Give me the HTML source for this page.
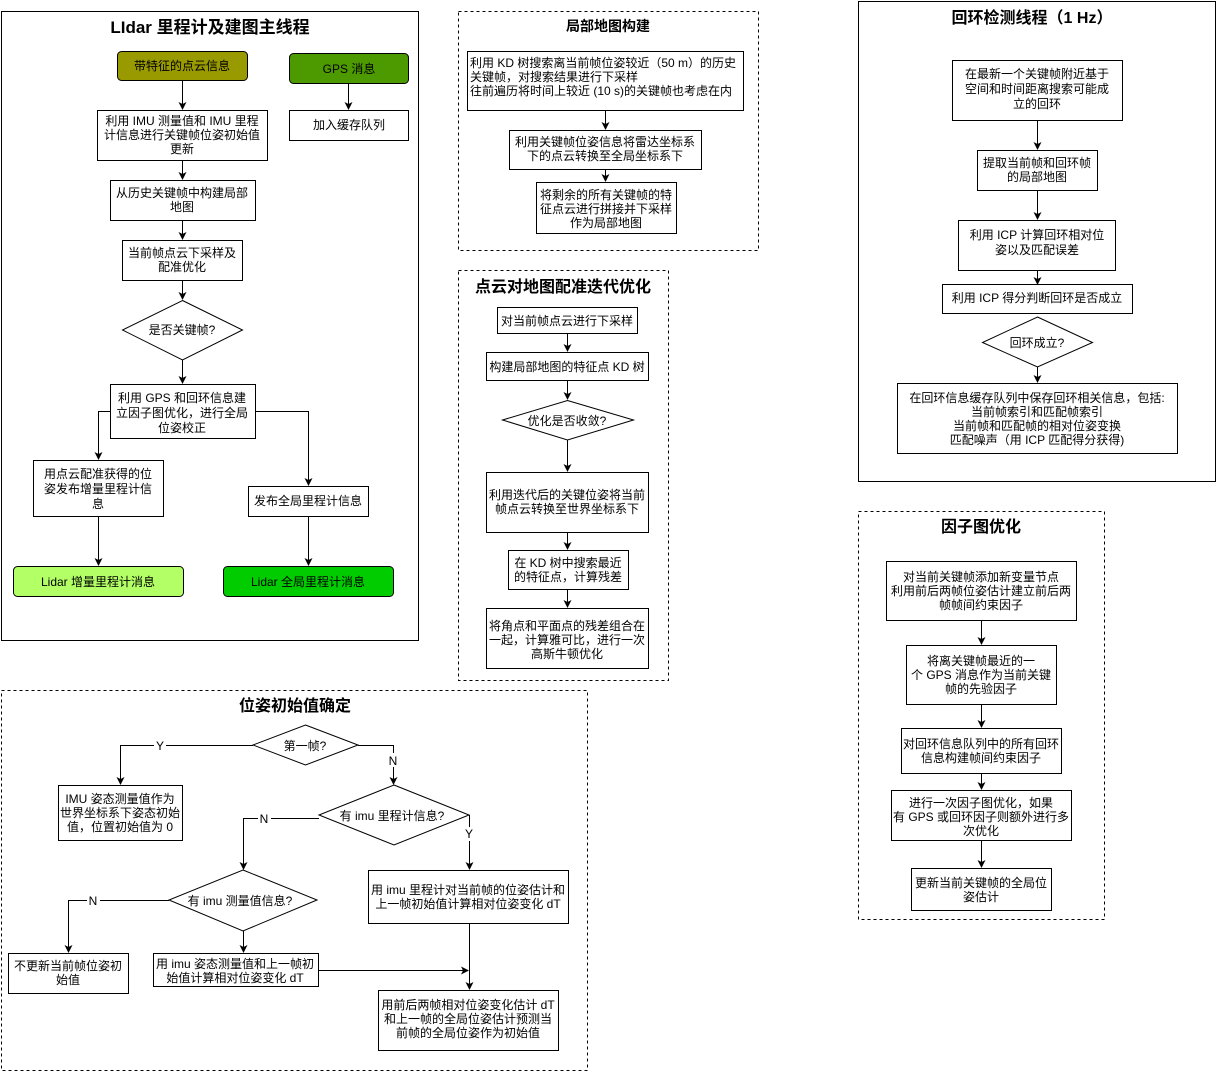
<!DOCTYPE html>
<html><head><meta charset="utf-8"><style>
html,body{margin:0;padding:0;background:#fff;}
svg{display:block;}
text{font-family:"Liberation Sans","Noto Sans CJK SC",sans-serif;font-size:12px;fill:#000;}
.t{font-weight:bold;font-size:16px;}
</style></head><body>
<svg width="1216" height="1071" viewBox="0 0 1216 1071" xmlns="http://www.w3.org/2000/svg">
<defs><marker id="a" markerWidth="10" markerHeight="10" refX="7" refY="4" orient="auto" markerUnits="userSpaceOnUse"><path d="M0,0 L8,4 L0,8 L2,4 Z" fill="#000"/></marker></defs>
<g fill="none" stroke="#000" stroke-width="1">
<rect x="1.5" y="11.5" width="417" height="629"/>
<rect x="117.5" y="51.5" width="130" height="29" rx="4" fill="#999900"/>
<rect x="289.5" y="53.5" width="119" height="30" rx="4" fill="#4D9900"/>
<rect x="97.5" y="110.5" width="170" height="50"/>
<rect x="289.5" y="110.5" width="119" height="30"/>
<rect x="110.5" y="180.5" width="145" height="40"/>
<rect x="122.5" y="240.5" width="120" height="40"/>
<polygon points="182.5,300.5 242.5,330 182.5,360 122.5,330"/>
<rect x="110.5" y="384.5" width="145" height="54"/>
<rect x="33.5" y="460.5" width="130" height="56"/>
<rect x="248.5" y="486.5" width="120" height="30"/>
<rect x="13.5" y="566.5" width="170" height="30" rx="4" fill="#B3FF66"/>
<rect x="223.5" y="566.5" width="170" height="30" rx="4" fill="#00CC00"/>
<g marker-end="url(#a)">
<path d="M182.5,80 V109"/><path d="M348.5,83 V109"/><path d="M182.5,160 V179"/>
<path d="M182.5,220 V239"/><path d="M182.5,280 V299"/><path d="M182.5,360 V383"/>
<path d="M110,411.5 H98.5 V459"/><path d="M255,411.5 H308.5 V485"/>
<path d="M98.5,516 V565"/><path d="M308.5,516 V565"/>
</g>
<rect x="458.5" y="11.5" width="300" height="239" stroke-dasharray="3,3"/>
<rect x="467.5" y="51.5" width="276" height="59"/>
<rect x="509.5" y="130.5" width="192" height="39"/>
<rect x="536.5" y="182.5" width="140" height="51"/>
<g marker-end="url(#a)"><path d="M605.5,110 V129"/><path d="M605.5,169 V181"/></g>
<rect x="458.5" y="270.5" width="210" height="410" stroke-dasharray="3,3"/>
<rect x="497.5" y="307.5" width="140" height="26"/>
<rect x="486.5" y="352.5" width="162" height="28"/>
<polygon points="567.5,400.5 633.5,420 567.5,440 502.5,420"/>
<rect x="486.5" y="472.5" width="162" height="60"/>
<rect x="508.5" y="550.5" width="120" height="39"/>
<rect x="486.5" y="608.5" width="162" height="60"/>
<g marker-end="url(#a)"><path d="M567.5,333 V351"/><path d="M567.5,380 V399"/><path d="M567.5,440 V471"/><path d="M567.5,532 V549"/><path d="M567.5,589 V607"/></g>
<rect x="858.5" y="1.5" width="357" height="480"/>
<rect x="952.5" y="60.5" width="170" height="60"/>
<rect x="977.5" y="150.5" width="120" height="40"/>
<rect x="958.5" y="220.5" width="157" height="50"/>
<rect x="942.5" y="284.5" width="190" height="29"/>
<polygon points="1037.5,317 1092.5,342.5 1037.5,367 982.5,342.5"/>
<rect x="897.5" y="383.5" width="280" height="70"/>
<g marker-end="url(#a)"><path d="M1037.5,120 V149"/><path d="M1037.5,190 V219"/><path d="M1037.5,270 V284"/><path d="M1037.5,367 V382"/></g>
<rect x="858.5" y="511.5" width="246" height="408" stroke-dasharray="3,3"/>
<rect x="886.5" y="561.5" width="190" height="59"/>
<rect x="906.5" y="645.5" width="150" height="59"/>
<rect x="901.5" y="728.5" width="160" height="45"/>
<rect x="891.5" y="790.5" width="180" height="50"/>
<rect x="911.5" y="868.5" width="140" height="42"/>
<g marker-end="url(#a)"><path d="M981.5,620 V644"/><path d="M981.5,704 V727"/><path d="M981.5,773 V789"/><path d="M981.5,840 V867"/></g>
<rect x="1.5" y="690.5" width="586" height="380" stroke-dasharray="3,3"/>
<polygon points="305.5,725 358,745 305.5,765 253,745"/>
<rect x="58.5" y="785.5" width="124" height="55"/>
<polygon points="394,785 469,815 394,845 319,815"/>
<polygon points="243,870 317,900 243,931 169,900"/>
<rect x="368.5" y="870.5" width="200" height="53"/>
<rect x="8.5" y="953.5" width="120" height="40"/>
<rect x="153.5" y="953.5" width="165" height="33"/>
<rect x="378.5" y="990.5" width="180" height="60"/>
<g marker-end="url(#a)">
<path d="M253,745.5 H120.5 V784"/><path d="M358,745.5 H393.5 V784"/>
<path d="M319,818.5 H243.5 V869"/><path d="M469.5,815 V869"/>
<path d="M169,900.5 H68.5 V952"/><path d="M243.5,931 V952"/>
<path d="M318,970.5 H468"/><path d="M469.5,923 V989"/>
</g>
</g>
<g fill="#fff"><rect x="154" y="739" width="12" height="13"/><rect x="387" y="753" width="13" height="14"/><rect x="258" y="811" width="13" height="14"/><rect x="463" y="827" width="13" height="14"/><rect x="87" y="893" width="13" height="14"/></g>
<g text-anchor="middle">
<text class="t" x="210" y="33" style="font-size:17px">LIdar 里程计及建图主线程</text>
<text x="182" y="70">带特征的点云信息</text>
<text x="349" y="73">GPS 消息</text>
<text x="182" y="125">利用 IMU 测量值和 IMU 里程<tspan x="182" dy="14">计信息进行关键帧位姿初始值</tspan><tspan x="182" dy="14">更新</tspan></text>
<text x="349" y="129">加入缓存队列</text>
<text x="182" y="197">从历史关键帧中构建局部<tspan x="182" dy="14">地图</tspan></text>
<text x="182" y="257">当前帧点云下采样及<tspan x="182" dy="14">配准优化</tspan></text>
<text x="182" y="334">是否关键帧?</text>
<text x="182" y="402">利用 GPS 和回环信息建<tspan x="182" dy="15">立因子图优化，进行全局</tspan><tspan x="182" dy="15">位姿校正</tspan></text>
<text x="98" y="478">用点云配准获得的位<tspan x="98" dy="15">姿发布增量里程计信</tspan><tspan x="98" dy="15">息</tspan></text>
<text x="308" y="505">发布全局里程计信息</text>
<text x="98" y="586">Lidar 增量里程计消息</text>
<text x="308" y="586">Lidar 全局里程计消息</text>
<text class="t" x="608" y="31" style="font-size:14px">局部地图构建</text>
<text x="605" y="146">利用关键帧位姿信息将雷达坐标系<tspan x="605" dy="14">下的点云转换至全局坐标系下</tspan></text>
<text x="606" y="199">将剩余的所有关键帧的特<tspan x="606" dy="14">征点云进行拼接并下采样</tspan><tspan x="606" dy="14">作为局部地图</tspan></text>
<text class="t" x="563" y="292">点云对地图配准迭代优化</text>
<text x="567" y="325">对当前帧点云进行下采样</text>
<text x="567" y="371">构建局部地图的特征点 KD 树</text>
<text x="567" y="425">优化是否收敛?</text>
<text x="567" y="499">利用迭代后的关键位姿将当前<tspan x="567" dy="14">帧点云转换至世界坐标系下</tspan></text>
<text x="568" y="567">在 KD 树中搜索最近<tspan x="568" dy="14">的特征点，计算残差</tspan></text>
<text x="567" y="630">将角点和平面点的残差组合在<tspan x="567" dy="14">一起，计算雅可比，进行一次</tspan><tspan x="567" dy="14">高斯牛顿优化</tspan></text>
<text class="t" x="1032" y="23">回环检测线程（1 Hz）</text>
<text x="1037" y="78">在最新一个关键帧附近基于<tspan x="1037" dy="15">空间和时间距离搜索可能成</tspan><tspan x="1037" dy="15">立的回环</tspan></text>
<text x="1037" y="167">提取当前帧和回环帧<tspan x="1037" dy="14">的局部地图</tspan></text>
<text x="1037" y="239">利用 ICP 计算回环相对位<tspan x="1037" dy="15">姿以及匹配误差</tspan></text>
<text x="1037" y="302">利用 ICP 得分判断回环是否成立</text>
<text x="1037" y="347">回环成立?</text>
<text x="1037" y="402">在回环信息缓存队列中保存回环相关信息，包括:<tspan x="1037" dy="14">当前帧索引和匹配帧索引</tspan><tspan x="1037" dy="14">当前帧和匹配帧的相对位姿变换</tspan><tspan x="1037" dy="14">匹配噪声（用 ICP 匹配得分获得)</tspan></text>
<text class="t" x="981" y="532">因子图优化</text>
<text x="981" y="581">对当前关键帧添加新变量节点<tspan x="981" dy="14">利用前后两帧位姿估计建立前后两</tspan><tspan x="981" dy="14">帧帧间约束因子</tspan></text>
<text x="981" y="665">将离关键帧最近的一<tspan x="981" dy="14">个 GPS 消息作为当前关键</tspan><tspan x="981" dy="14">帧的先验因子</tspan></text>
<text x="981" y="748">对回环信息队列中的所有回环<tspan x="981" dy="14">信息构建帧间约束因子</tspan></text>
<text x="981" y="807">进行一次因子图优化，如果<tspan x="981" dy="14">有 GPS 或回环因子则额外进行多</tspan><tspan x="981" dy="14">次优化</tspan></text>
<text x="981" y="887">更新当前关键帧的全局位<tspan x="981" dy="14">姿估计</tspan></text>
<text class="t" x="295" y="711">位姿初始值确定</text>
<text x="305" y="750">第一帧?</text>
<text x="160" y="750">Y</text><text x="393" y="765">N</text>
<text x="120" y="803">IMU 姿态测量值作为<tspan x="120" dy="14">世界坐标系下姿态初始</tspan><tspan x="120" dy="14">值，位置初始值为 0</tspan></text>
<text x="392" y="820">有 imu 里程计信息?</text>
<text x="264" y="823">N</text><text x="469" y="838">Y</text>
<text x="240" y="905">有 imu 测量值信息?</text>
<text x="93" y="905">N</text>
<text x="468" y="894">用 imu 里程计对当前帧的位姿估计和<tspan x="468" dy="14">上一帧初始值计算相对位姿变化 dT</tspan></text>
<text x="68" y="970">不更新当前帧位姿初<tspan x="68" dy="14">始值</tspan></text>
<text x="235" y="968">用 imu 姿态测量值和上一帧初<tspan x="235" dy="14">始值计算相对位姿变化 dT</tspan></text>
<text x="468" y="1009">用前后两帧相对位姿变化估计 dT<tspan x="468" dy="14">和上一帧的全局位姿估计预测当</tspan><tspan x="468" dy="14">前帧的全局位姿作为初始值</tspan></text>
</g>
<g>
<text x="470" y="67">利用 KD 树搜索离当前帧位姿较近（50 m）的历史</text>
<text x="470" y="81">关键帧，对搜索结果进行下采样</text>
<text x="470" y="95">往前遍历将时间上较近 (10 s)的关键帧也考虑在内</text>
</g>
</svg>
</body></html>
